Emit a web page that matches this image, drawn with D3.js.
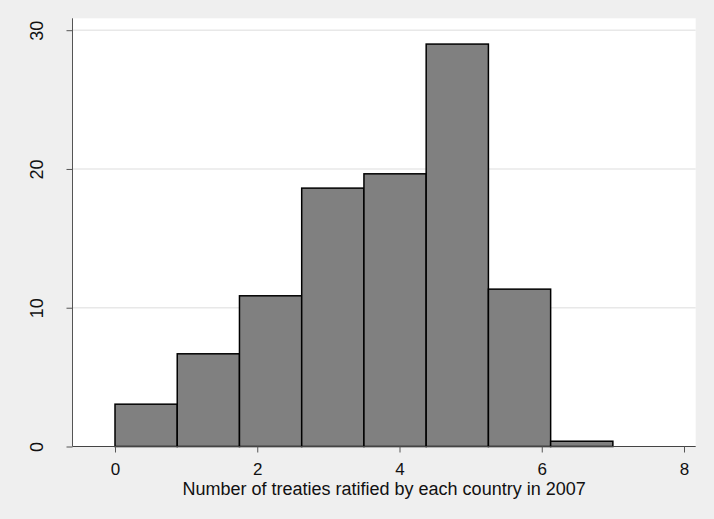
<!DOCTYPE html>
<html>
<head>
<meta charset="utf-8">
<script src="https://cdn.jsdelivr.net/npm/d3@7"></script>
<style>
  html, body { margin: 0; padding: 0; background: #efefef; }
  svg { display: block; }
  text { font-family: "Liberation Sans", Arial, sans-serif; fill: #111; }
</style>
</head>
<body>
<svg id="chart" width="714" height="519"></svg>
<script>
// Histogram bins (edges) and the percent of countries in each bin
const binEdges = [0, 0.875, 1.75, 2.625, 3.5, 4.375, 5.25, 6.125, 7];
const percents = [3.05, 6.68, 10.86, 18.62, 19.65, 29.0, 11.34, 0.38];
const xTicks = [0, 2, 4, 6, 8];
const yTicks = [0, 10, 20, 30];
const xTitle = "Number of treaties ratified by each country in 2007";

const W = 714, H = 519;
const plot = { left: 72.5, right: 695.7, top: 18.3, bottom: 446.5 };

const svg = d3.select("#chart");

svg.append("rect").attr("width", W).attr("height", H).attr("fill", "#efefef");

const x = d3.scaleLinear().domain([0, 8]).range([115, 684]);
const y = d3.scaleLinear().domain([0, 30]).range([plot.bottom, 30.2]);

// plot region
svg.append("rect")
  .attr("x", plot.left).attr("y", plot.top)
  .attr("width", plot.right - plot.left).attr("height", plot.bottom - plot.top)
  .attr("fill", "#ffffff");

// horizontal gridlines
svg.append("g").selectAll("line")
  .data(yTicks.filter(d => d > 0))
  .join("line")
  .attr("x1", plot.left).attr("x2", plot.right)
  .attr("y1", d => y(d)).attr("y2", d => y(d))
  .attr("stroke", "#e8e8e8").attr("stroke-width", 1.5);

// bars
const bins = percents.map((p, i) => ({ x0: binEdges[i], x1: binEdges[i + 1], p }));
svg.append("g").selectAll("rect")
  .data(bins)
  .join("rect")
  .attr("x", d => x(d.x0))
  .attr("width", d => x(d.x1) - x(d.x0))
  .attr("y", d => y(d.p))
  .attr("height", d => y(0) - y(d.p))
  .attr("fill", "#808080")
  .attr("stroke", "#000")
  .attr("stroke-width", 1.5);

// y axis
const yAxis = svg.append("g")
  .attr("transform", `translate(${plot.left},0)`)
  .call(d3.axisLeft(y).tickValues(yTicks).tickSize(6).tickPadding(0).tickFormat(d3.format("d")));
yAxis.select(".domain").attr("d", `M0,${plot.top}V${plot.bottom}`).attr("stroke", "#555");
yAxis.selectAll(".tick line").attr("stroke", "#555");
yAxis.selectAll(".tick text")
  .attr("x", 0).attr("dy", 0)
  .attr("text-anchor", "middle")
  .attr("transform", `translate(-29.5,0) rotate(-90)`)
  .style("font-size", "18px")
  .style("fill", "#111");

// x axis
const xAxis = svg.append("g")
  .attr("transform", `translate(0,${plot.bottom})`)
  .call(d3.axisBottom(x).tickValues(xTicks).tickSize(6).tickPadding(0).tickFormat(d3.format("d")));
xAxis.select(".domain").attr("d", `M${plot.left},0H${plot.right}`).attr("stroke", "#444");
xAxis.selectAll(".tick line").attr("stroke", "#555");
xAxis.selectAll(".tick text")
  .attr("y", 28).attr("dy", 0)
  .style("font-size", "17px")
  .style("fill", "#111");

// x axis title
svg.append("text")
  .attr("x", (plot.left + plot.right) / 2)
  .attr("y", 494.5)
  .attr("text-anchor", "middle")
  .style("font-size", "18px")
  .text(xTitle);
</script>
</body>
</html>
